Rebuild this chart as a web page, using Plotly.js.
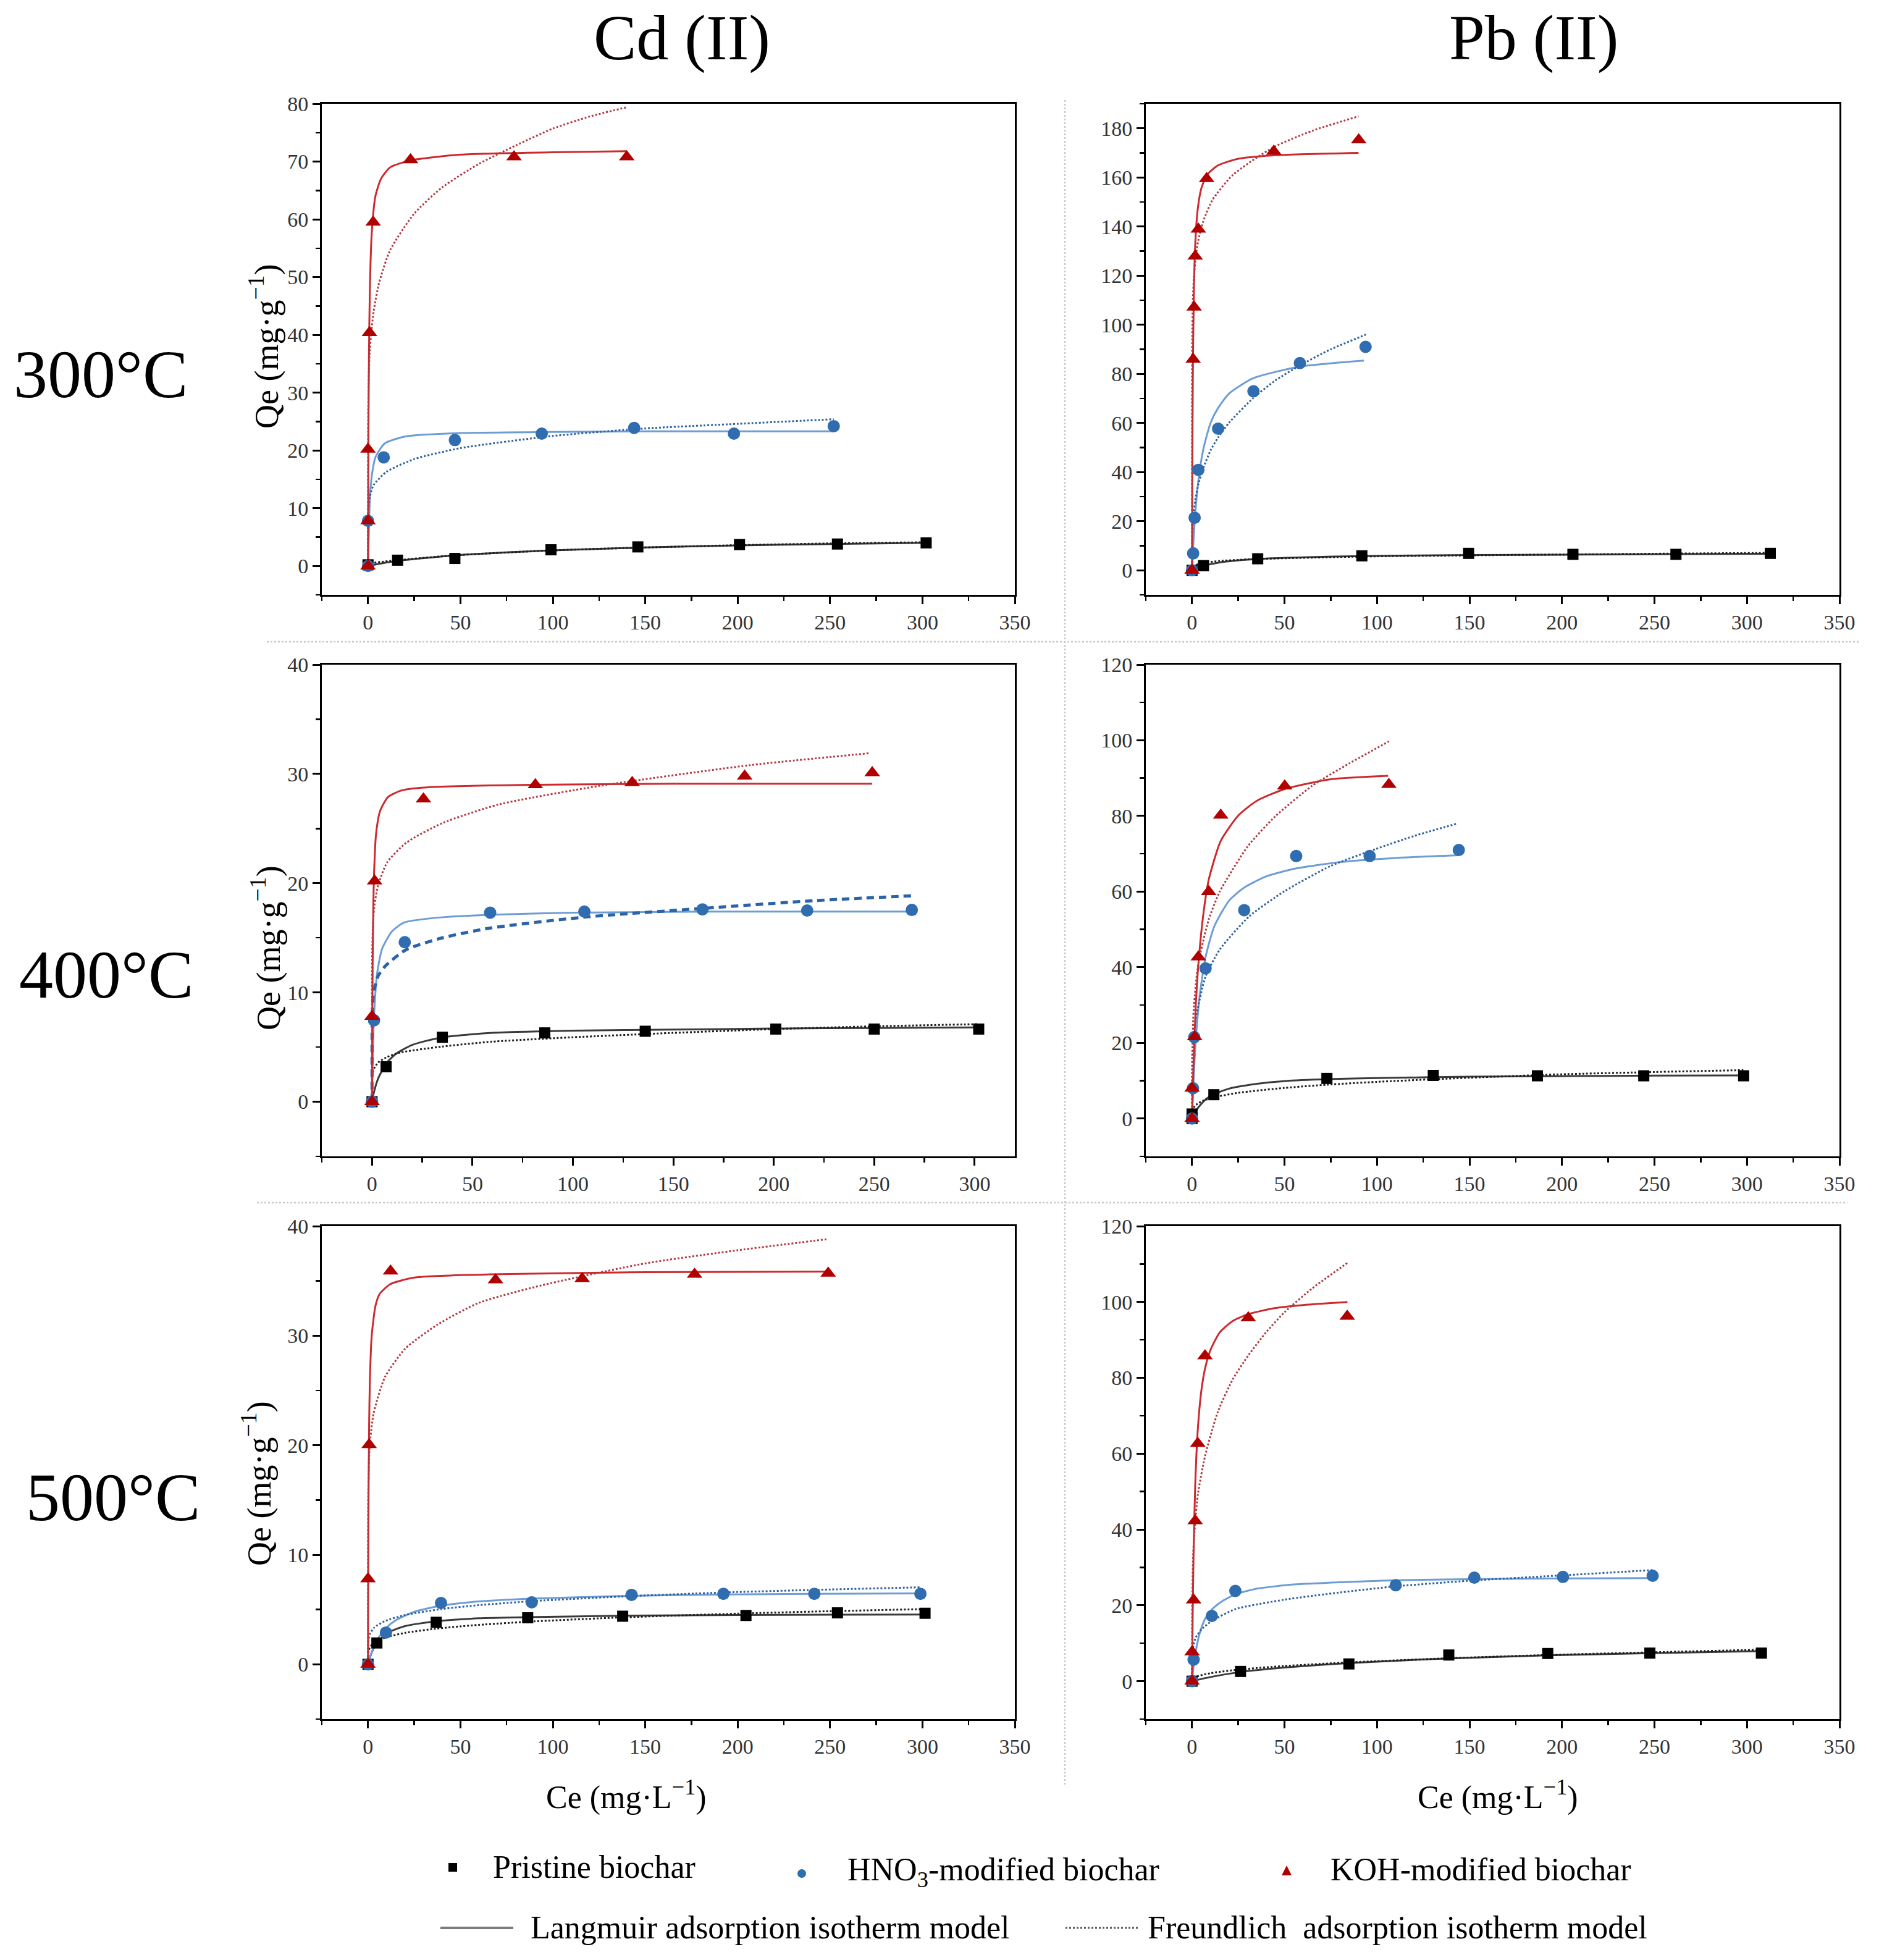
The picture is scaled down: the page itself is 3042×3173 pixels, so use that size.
<!DOCTYPE html>
<html><head><meta charset="utf-8">
<script src="https://cdn.plot.ly/plotly-3.0.1.min.js"></script>
<style>html,body{margin:0;padding:0;background:#fff}#chart{width:3042px;height:3173px}</style>
</head><body><div id="chart"></div>
<script>
// ---------------- DATA ----------------
// Panel A: Cd(II) 300°C
const cd300_pri_x=[0,16,47,99,146,201,254,302], cd300_pri_y=[0.2,1.0,1.3,2.8,3.3,3.7,3.8,4.0];
const cd300_pri_lx=[0,16,50,100,150,200,250,302], cd300_pri_ly=[0,0.9,1.9,2.7,3.2,3.55,3.8,4.0];
const cd300_pri_fx=[0,2,16,50,100,150,200,250,302], cd300_pri_fy=[0,0.45,1.0,1.9,2.7,3.2,3.6,3.9,4.1];
const cd300_hno_x=[0,0,8.5,47,94,144,198,252], cd300_hno_y=[0,7.8,18.8,21.8,22.9,23.9,22.9,24.2];
const cd300_hno_lx=[0,1,2,4,9,20,50,100,150,252], cd300_hno_ly=[0,11.5,15.5,18.8,21.2,22.4,23.0,23.2,23.3,23.3];
const cd300_hno_fx=[0,0.05,0.3,1,3,10,25,50,100,150,200,252], cd300_hno_fy=[0,8.1,10.1,12.0,14.0,16.3,18.5,20.4,22.5,23.8,24.6,25.4];
const cd300_koh_x=[0,0,0,0.8,2.8,23,79,140], cd300_koh_y=[0,7.8,20.2,40.4,59.5,70.3,70.8,70.8];
const cd300_koh_lx=[0,0.25,0.5,1,2,4,7,12,23,50,100,140], cd300_koh_ly=[0,24,36,48,57.5,64,67,69,70.2,71.2,71.6,71.8];
const cd300_koh_fx=[0,0.02,0.1,0.5,1,3,6,12,25,40,60,80,100,120,140], cd300_koh_fy=[0,20,26.6,33.8,37.6,44,49,54.7,61,65.5,69.6,72.8,75.7,77.8,79.4];

// Panel B: Pb(II) 300°C
const pb300_pri_x=[0,6.2,35.5,91.8,149.5,205.9,261.6,312.6], pb300_pri_y=[0,1.9,4.7,5.9,6.9,6.5,6.5,6.9];
const pb300_pri_lx=[0,3,6,15,35,60,92,150,210,260,313], pb300_pri_ly=[0,0.9,1.7,3.2,4.6,5.3,5.8,6.2,6.4,6.6,6.7];
const pb300_pri_fx=[0,1,6,15,35,92,150,210,260,313], pb300_pri_fy=[0,1.8,3.0,3.8,4.6,5.6,6.1,6.5,6.8,7.1];
const pb300_hno_x=[0,0.6,1.4,3.4,14.1,33.2,58.3,93.8], pb300_hno_y=[0,6.9,21.4,40.9,57.7,72.9,84.4,91.0];
const pb300_hno_lx=[0,0.5,1,2,3.4,6,10,14,20,33,58,93], pb300_hno_ly=[0,8.2,15,25.7,36.4,49,60,66,72,78.2,82.9,85.4];
const pb300_hno_fx=[0,0.02,0.1,0.5,1,2,3.4,6,10,14,20,33,45,58,75,94], pb300_hno_fy=[0,7.8,12,19.6,24.2,29.9,35,41.5,48.8,54,60.1,70.1,77.3,83.3,90,96];
const pb300_koh_x=[0,0.6,1.1,1.7,3.4,7.9,44.2,90.1], pb300_koh_y=[0,85.9,107.2,127.9,138.9,159.5,170.6,175.3];
const pb300_koh_lx=[0,0.1,0.25,0.5,1,1.7,3,5,8,14,25,44,90], pb300_koh_ly=[0,28.5,57,85.5,114,132.4,146.6,155.5,161,164.9,167.6,169,170];
const pb300_koh_fx=[0,0.005,0.03,0.1,0.3,0.6,1,2,3.4,6,11,22,44,65,90], pb300_koh_fy=[0,71,84.5,95.1,105.6,113.3,119.1,127.6,134.5,142,150.8,161,172.3,179,184.9];

// Panel C: Cd(II) 400°C
const cd400_pri_x=[0,7,35,86,136,201,250,302], cd400_pri_y=[0,3.2,5.9,6.3,6.45,6.65,6.65,6.65];
const cd400_pri_lx=[0,1,3,7,12,20,35,60,100,150,200,250,302], cd400_pri_ly=[0,0.9,2.1,3.5,4.4,5.2,5.9,6.3,6.5,6.6,6.7,6.75,6.8];
const cd400_pri_fx=[0,0.01,0.1,0.5,1,3,7,14,35,60,100,150,200,250,302], cd400_pri_fy=[0,1.5,2.15,2.75,3.04,3.58,4.05,4.5,5.05,5.5,5.9,6.3,6.65,6.9,7.1];
const cd400_hno_x=[0,1,16.3,58.8,105.7,164.5,216.6,268.7], cd400_hno_y=[0,7.45,14.6,17.3,17.4,17.6,17.5,17.55];
const cd400_hno_lx=[0,0.3,0.7,1.3,2.5,5,10,16,30,58,100,170,270], cd400_hno_ly=[0,3.35,6.36,8.9,11.7,14.0,15.6,16.4,16.8,17.1,17.3,17.4,17.4];
const cd400_hno_fx=[0,0.01,0.1,0.5,1,3,6.5,16.8,35,59,106,165,220,269], cd400_hno_fy=[0,6.2,7.9,9.5,10.2,11.5,12.4,13.9,15.0,15.9,16.9,17.7,18.4,18.85];
const cd400_koh_x=[0,0,1.3,25.6,81.3,129.5,185.5,249], cd400_koh_y=[0,7.8,20.2,27.7,29.0,29.2,29.8,30.1];
const cd400_koh_lx=[0,0.1,0.3,0.6,1,2,4,8,15,30,80,150,249], cd400_koh_ly=[0,5.8,12.5,17.5,20.9,24.5,26.6,27.9,28.5,28.8,29.0,29.1,29.1];
const cd400_koh_fx=[0,0.01,0.1,0.5,1.3,3,7.5,17,35,63,113,188,248], cd400_koh_fy=[0,10.6,13.8,16.4,18.1,19.8,21.9,23.7,25.5,27.2,28.9,30.8,31.9];

// Panel D: Pb(II) 400°C
const pb400_pri_x=[0,0,11.8,72.9,130.4,186.7,244.2,298.2], pb400_pri_y=[0,1.2,6.3,10.6,11.4,11.3,11.3,11.3];
const pb400_pri_lx=[0,2,5,8,12,20,35,50,73,100,150,200,250,298], pb400_pri_ly=[0,1.97,3.9,5.3,6.4,7.9,9.2,9.9,10.4,10.7,11.05,11.2,11.35,11.4];
const pb400_pri_fx=[0,0.1,0.5,1,3,6,11.8,25,50,73,100,150,200,250,298], pb400_pri_fy=[0,1.65,2.5,2.98,3.95,4.7,5.6,6.8,8.1,8.95,9.7,10.8,11.7,12.3,12.8];
const pb400_hno_x=[0,0.5,1.2,7.3,28.2,56.3,96,144.2], pb400_hno_y=[0,8,21.5,39.7,55.1,69.4,69.4,71.0];
const pb400_hno_lx=[0,0.5,1,2,4,7.3,12,20,28,40,56,80,110,144], pb400_hno_ly=[0,6.5,12,20.6,32,42.7,50.8,57.6,61,64,66.1,67.8,68.9,69.6];
const pb400_hno_fx=[0,0.1,0.5,1,3,7.3,15,31,50,75,99,120,143.5], pb400_hno_fy=[0,13.1,19.4,23.1,28.9,37.6,44.7,53.5,60.1,66.8,71.2,74.7,78];
const pb400_koh_x=[0,0,1.4,3.4,9,15.5,50.1,106.4], pb400_koh_y=[0,8,21.6,42.7,60,80.2,87.9,88.3];
const pb400_koh_lx=[0,0.5,1,2,3.4,6,9,15.5,25,35,50,75,106], pb400_koh_ly=[0,9.7,17.1,29.7,40.6,53.6,63.1,73.4,80.1,84,87.1,89.7,90.6];
const pb400_koh_fx=[0,0.1,0.5,1,3.4,9,15,30,45,65,85,106.4], pb400_koh_fy=[0,16.4,24.4,29.8,41,52.6,60,71.9,79.9,88,93.9,99.7];

// Panel E: Cd(II) 500°C
const cd500_pri_x=[0,4.8,36.9,86.4,137.8,204.5,254,301.4], cd500_pri_y=[0,1.95,3.84,4.25,4.39,4.46,4.7,4.66];
const cd500_pri_lx=[0,1,2.5,4.8,8,12,20,37,60,86,140,200,250,301], cd500_pri_ly=[0,0.6,1.27,1.95,2.5,2.99,3.49,3.94,4.2,4.3,4.44,4.5,4.53,4.55];
const cd500_pri_fx=[0,0.1,0.5,1,3,9,20,37,60,90,137,200,250,301], cd500_pri_fy=[0,0.95,1.33,1.54,1.94,2.43,2.87,3.26,3.6,3.92,4.28,4.63,4.85,5.04];
const cd500_hno_x=[0,9.7,39.5,88.6,142.6,192.3,241.5,298.9], cd500_hno_y=[0,2.9,5.6,5.66,6.34,6.44,6.44,6.44];
const cd500_hno_lx=[0,1,3,6,9.7,15,25,39.5,60,88.6,142,192,241,299], cd500_hno_ly=[0,0.61,1.55,2.5,3.3,4.02,4.79,5.35,5.74,6.0,6.25,6.37,6.43,6.48];
const cd500_hno_fx=[0,0.1,0.5,1,3.4,9,20,39.5,60,90,142,200,250,299], cd500_hno_fy=[0,1.88,2.4,2.75,3.36,3.94,4.5,5.04,5.4,5.78,6.23,6.6,6.83,7.03];
const cd500_koh_x=[0,0,0.6,12.2,69,115.9,176.7,249], cd500_koh_y=[0,7.8,20.05,35.9,35.1,35.2,35.6,35.7];
const cd500_koh_lx=[0,0.1,0.3,0.6,1,2,4,6.25,12,25,66,150,249], cd500_koh_ly=[0,7.3,15.5,21.8,25.9,30,32.7,33.8,34.7,35.3,35.6,35.8,35.85];
const cd500_koh_fx=[0,0.01,0.1,0.6,1,3,9.1,20,37.5,60,94,150,200,248], cd500_koh_fy=[0,11.6,15.3,19.0,20.15,22.9,26.2,28.8,31,33,34.6,36.6,37.8,38.8];

// Panel F: Pb(II) 500°C
const pb500_pri_x=[0,26.2,84.8,138.8,192.3,247.5,307.8], pb500_pri_y=[0,2.57,4.55,6.9,7.3,7.4,7.4];
const pb500_pri_lx=[0,10,26,50,85,139,192,248,308], pb500_pri_ly=[0,1.1,2.4,3.6,4.8,6.0,6.8,7.4,7.9];
const pb500_pri_fx=[0,0.5,2.8,10,26,50,85,139,192,248,308], pb500_pri_fy=[0,0.64,1.27,2.11,3.1,4.0,4.95,6.05,6.9,7.6,8.3];
const pb500_hno_x=[0,0.85,10.7,23.4,110.1,152.6,200.5,249], pb500_hno_y=[0,5.7,17.2,23.8,25.3,27.3,27.5,27.8];
const pb500_hno_lx=[0,0.5,1,2,4,7,10.7,16,23.4,35,55,80,110,150,200,249], pb500_hno_ly=[0,2.5,4.6,7.9,12.4,16.4,18.9,21,22.9,24.4,25.5,26.1,26.6,26.9,27.1,27.2];
const pb500_hno_fx=[0,0.05,0.2,0.85,2,5,10.7,23.4,50,80,110,150,200,249], pb500_hno_fy=[0,5.6,7.3,9.7,11.5,13.6,15.9,19.0,21.5,23.4,25,26.5,27.9,29.3];
const pb500_koh_x=[0,0,0.85,1.7,3.1,7,30.4,83.9], pb500_koh_y=[0,7.7,21.4,42.3,62.7,85.8,95.8,96.2];
const pb500_koh_lx=[0,0.3,0.8,1.7,3.1,5,7,10,15,22,30.4,45,60,84], pb500_koh_ly=[0,15.3,33.2,51.5,66.3,76.5,82.4,87.4,92,95,96.8,98.4,99.2,100];
const pb500_koh_fx=[0,0.02,0.1,0.5,1,3.1,7,14,22,30.4,40,50,65,84], pb500_koh_fy=[0,14.9,21.3,31.7,37.3,49.1,59.3,71.1,79.6,85.9,92,97.3,103.6,110.3];

// Axis ranges / tick steps per panel
const xRanges=[[-25,350],[-25,350],[-25,320],[-25,350],[-25,350],[-25,350]];
const yRanges=[[-5,80],[-10,190],[-5,40],[-10,120],[-5,40],[-10,120]];
const yDticks=[10,20,10,20,10,20];

// Labels
const colTitles=['Cd (II)','Pb (II)'];
const rowTitles=['300°C','400°C','500°C'];
const yTitle='Qe (mg·g<sup>−1</sup>)';
const xTitle='Ce (mg·L<sup>−1</sup>)';
const legendNames=['Pristine biochar','HNO<sub>3</sub>-modified biochar','KOH-modified biochar','Langmuir adsorption isotherm model','Freundlich\u00a0 adsorption isotherm model'];

// ---------------- BUILD ----------------
const W=3042,H=3173;
const PX=x=>x/W, PY=y=>1-y/H;
const FONT='Liberation Serif, Times New Roman, serif';

const panels=[
 {pri:[cd300_pri_x,cd300_pri_y,cd300_pri_lx,cd300_pri_ly,cd300_pri_fx,cd300_pri_fy],hno:[cd300_hno_x,cd300_hno_y,cd300_hno_lx,cd300_hno_ly,cd300_hno_fx,cd300_hno_fy],koh:[cd300_koh_x,cd300_koh_y,cd300_koh_lx,cd300_koh_ly,cd300_koh_fx,cd300_koh_fy]},
 {pri:[pb300_pri_x,pb300_pri_y,pb300_pri_lx,pb300_pri_ly,pb300_pri_fx,pb300_pri_fy],hno:[pb300_hno_x,pb300_hno_y,pb300_hno_lx,pb300_hno_ly,pb300_hno_fx,pb300_hno_fy],koh:[pb300_koh_x,pb300_koh_y,pb300_koh_lx,pb300_koh_ly,pb300_koh_fx,pb300_koh_fy]},
 {pri:[cd400_pri_x,cd400_pri_y,cd400_pri_lx,cd400_pri_ly,cd400_pri_fx,cd400_pri_fy],hno:[cd400_hno_x,cd400_hno_y,cd400_hno_lx,cd400_hno_ly,cd400_hno_fx,cd400_hno_fy],koh:[cd400_koh_x,cd400_koh_y,cd400_koh_lx,cd400_koh_ly,cd400_koh_fx,cd400_koh_fy],hnoDash:true},
 {pri:[pb400_pri_x,pb400_pri_y,pb400_pri_lx,pb400_pri_ly,pb400_pri_fx,pb400_pri_fy],hno:[pb400_hno_x,pb400_hno_y,pb400_hno_lx,pb400_hno_ly,pb400_hno_fx,pb400_hno_fy],koh:[pb400_koh_x,pb400_koh_y,pb400_koh_lx,pb400_koh_ly,pb400_koh_fx,pb400_koh_fy]},
 {pri:[cd500_pri_x,cd500_pri_y,cd500_pri_lx,cd500_pri_ly,cd500_pri_fx,cd500_pri_fy],hno:[cd500_hno_x,cd500_hno_y,cd500_hno_lx,cd500_hno_ly,cd500_hno_fx,cd500_hno_fy],koh:[cd500_koh_x,cd500_koh_y,cd500_koh_lx,cd500_koh_ly,cd500_koh_fx,cd500_koh_fy]},
 {pri:[pb500_pri_x,pb500_pri_y,pb500_pri_lx,pb500_pri_ly,pb500_pri_fx,pb500_pri_fy],hno:[pb500_hno_x,pb500_hno_y,pb500_hno_lx,pb500_hno_ly,pb500_hno_fx,pb500_hno_fy],koh:[pb500_koh_x,pb500_koh_y,pb500_koh_lx,pb500_koh_ly,pb500_koh_fx,pb500_koh_fy]}
];

const styles={
 pri:{sym:'square',mc:'#000000',ms:18,lc:'#3a3a3a',fc:'#1e1e1e'},
 hno:{sym:'circle',mc:'#2f6db0',ms:20,lc:'#6d9dd4',fc:'#30619f'},
 koh:{sym:'triangle-up',mc:'#b00000',ms:22,lc:'#cc2a2f',fc:'#b23a42'}
};

const colX=[[521,1643],[1855,2978]];
const rowY=[[168,963],[1076,1872],[1985,2783]];

const traces=[];
const layout={width:W,height:H,margin:{l:0,r:0,t:0,b:0},paper_bgcolor:'#fff',plot_bgcolor:'#fff',showlegend:false,annotations:[],shapes:[]};

panels.forEach((p,i)=>{
  const r=Math.floor(i/2), c=i%2;
  const xn=i===0?'x':'x'+(i+1), yn=i===0?'y':'y'+(i+1);
  const xk=i===0?'xaxis':'xaxis'+(i+1), yk=i===0?'yaxis':'yaxis'+(i+1);
  const axCommon={showline:true,mirror:true,linecolor:'#000',linewidth:3,ticks:'outside',tickwidth:3,tickcolor:'#000',
    showgrid:false,zeroline:false,tickfont:{family:FONT,size:34,color:'#333'},tick0:0};
  layout[xk]=Object.assign({},axCommon,{domain:[PX(colX[c][0]),PX(colX[c][1])],range:xRanges[i],anchor:yn,dtick:50,ticklen:12,
    minor:{dtick:25,ticks:'outside',ticklen:7,tickwidth:2.5,tickcolor:'#000'}});
  layout[yk]=Object.assign({},axCommon,{domain:[PY(rowY[r][1]),PY(rowY[r][0])],range:yRanges[i],anchor:xn,dtick:yDticks[i],ticklen:12,
    minor:{dtick:yDticks[i]/2,ticks:'outside',ticklen:7,tickwidth:2.5,tickcolor:'#000'}});
  ['pri','hno','koh'].forEach(k=>{
    const d=p[k], s=styles[k];
    traces.push({type:'scatter',mode:'lines',x:d[2],y:d[3],xaxis:xn,yaxis:yn,line:{color:s.lc,width:3,shape:'spline',smoothing:0.6},hoverinfo:'skip'});
    const thick=(k==='hno'&&p.hnoDash);
    traces.push({type:'scatter',mode:'lines',x:d[4],y:d[5],xaxis:xn,yaxis:yn,line:{color:thick?'#2a63a8':s.fc,width:thick?5:3,dash:thick?'12px,8px':'dot',shape:'spline',smoothing:0.6},hoverinfo:'skip'});
  });
  ['pri','hno','koh'].forEach(k=>{
    const d=p[k], s=styles[k];
    traces.push({type:'scatter',mode:'markers',x:d[0],y:d[1],xaxis:xn,yaxis:yn,marker:{symbol:s.sym,color:s.mc,size:s.ms,line:{width:0}},cliponaxis:false});
  });
});

function ann(x,y,text,size,opts){
  layout.annotations.push(Object.assign({xref:'paper',yref:'paper',x:PX(x),y:PY(y),text:text,showarrow:false,
    font:{family:FONT,size:size,color:'#000'},xanchor:'center',yanchor:'middle'},opts||{}));
}
ann(1104,61,colTitles[0],104);
ann(2483,61,colTitles[1],104);
ann(163,606,rowTitles[0],110);
ann(172,1578,rowTitles[1],110);
ann(183,2424,rowTitles[2],110);
ann(428,561,yTitle,54,{textangle:-90});
ann(430,1535,yTitle,54,{textangle:-90});
ann(415,2402,yTitle,54,{textangle:-90});
ann(1014,2906,xTitle,52);
ann(2425,2906,xTitle,52);
ann(796,3022,legendNames[0],52,{xanchor:'left'});
ann(1370,3030,legendNames[1],52,{xanchor:'left'});
ann(2152,3026,legendNames[2],52,{xanchor:'left'});
ann(857,3120,legendNames[3],52,{xanchor:'left'});
ann(1856,3120,legendNames[4],52,{xanchor:'left'});

function shp(o){layout.shapes.push(Object.assign({xref:'paper',yref:'paper'},o));}
// separators
const sep={color:'#c8c8c8',width:2.5,dash:'dot'};
shp({type:'line',x0:PX(432),x1:PX(3012),y0:PY(1039),y1:PY(1039),line:sep});
shp({type:'line',x0:PX(416),x1:PX(2991),y0:PY(1947),y1:PY(1947),line:sep});
shp({type:'line',x0:PX(1724),x1:PX(1724),y0:PY(162),y1:PY(2890),line:sep});
// legend glyphs
shp({type:'rect',x0:PX(726),x1:PX(740),y0:PY(3030),y1:PY(3016),fillcolor:'#000',line:{width:0}});
shp({type:'circle',x0:PX(1291),x1:PX(1305),y0:PY(3040),y1:PY(3026),fillcolor:'#2f6db0',line:{width:0}});
shp({type:'path',path:'M '+PX(2075)+' '+PY(3036)+' L '+PX(2091)+' '+PY(3036)+' L '+PX(2083)+' '+PY(3020)+' Z',fillcolor:'#b00000',line:{width:0}});
shp({type:'line',x0:PX(713),x1:PX(831),y0:PY(3121),y1:PY(3121),line:{color:'#7a7a7a',width:4}});
shp({type:'line',x0:PX(1725),x1:PX(1843),y0:PY(3121),y1:PY(3121),line:{color:'#555',width:3,dash:'dot'}});

Plotly.newPlot('chart',traces,layout,{staticPlot:true});
</script></body></html>
